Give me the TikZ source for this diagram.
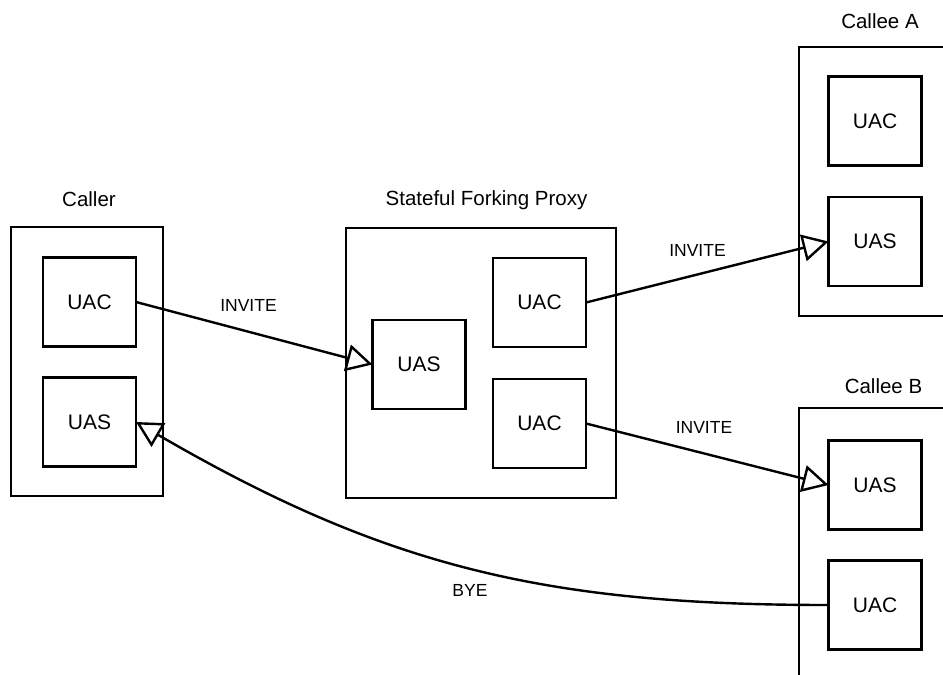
\documentclass[tikz,border=0pt]{standalone}
\usepackage{fontspec}
\setmainfont{Liberation Sans}
\usetikzlibrary{arrows.meta}
\begin{document}
\begin{tikzpicture}[x=1pt,y=-1pt,
  agent/.style={draw, line width=2.6pt, minimum width=93pt, minimum height=89pt, inner sep=0pt, outer sep=0pt, font=\fontsize{21}{24}\selectfont},
  container/.style={draw, line width=2.6pt, inner sep=0pt, outer sep=0pt},
  title/.style={anchor=base, inner sep=0pt, font=\fontsize{20.5}{24}\selectfont},
  msglabel/.style={anchor=base, inner sep=0pt, font=\fontsize{17.5}{20}\selectfont},
  msg/.style={line width=2.4pt, -{Triangle[open, length=26pt, width=27pt, line width=2.4pt]}}
]
\useasboundingbox (0,0) rectangle (943,675);
\begin{scope}
\clip (0,0) rectangle (943,675);

% Caller
\node[container, minimum width=152pt, minimum height=269pt] (caller) at (87,361.5) {};
\node[title] (callerT) at (89,206.5) {Caller};
\node[agent] (cUAC) at (89.5,302) {UAC};
\node[agent] (cUAS) at (89.5,422) {UAS};

% Proxy
\node[container, minimum width=270pt, minimum height=270pt] (proxy) at (481,363) {};
\node[title] (proxyT) at (486.5,205) {Stateful Forking Proxy};
\node[agent] (pUAS) at (419,364.5) {UAS};
\node[agent] (pUAC1) at (539.5,302.5) {UAC};
\node[agent] (pUAC2) at (539.5,423.5) {UAC};

% Callee A
\coordinate (aTR) at (950,47);
\coordinate (aTL) at (799,47);
\coordinate (aBL) at (799,316);
\coordinate (aBR) at (950,316);
\draw[line width=2.6pt] (aTR) -- (aTL) -- (aBL) -- (aBR);
\node[title] (aT) at (880,28.3) {Callee A};
\node[agent] (aUAC) at (875,121) {UAC};
\node[agent] (aUAS) at (875,241.5) {UAS};

% Callee B
\coordinate (bTR) at (950,408);
\coordinate (bTL) at (799,408);
\coordinate (bBL) at (799,690);
\draw[line width=2.6pt] (bTR) -- (bTL) -- (bBL);
\node[title] (bT) at (883.5,393.3) {Callee B};
\node[agent] (bUAS) at (875,485) {UAS};
\node[agent] (bUAC) at (875,605) {UAC};

% Messages
\draw[msg] (cUAC.east) -- (pUAS.west);
\draw[msg] (pUAC1.east) -- (aUAS.west);
\draw[msg] (pUAC2.east) -- (bUAS.west);
\draw[msg] (bUAC.west) .. controls (548,605) and (387,568) .. (cUAS.east);

\node[msglabel] (l1) at (248.5,311.7) {INVITE};
\node[msglabel] (l2) at (697.5,256.7) {INVITE};
\node[msglabel] (l3) at (704,433.3) {INVITE};
\node[msglabel] (l4) at (470,596.7) {BYE};
\end{scope}
\end{tikzpicture}
\end{document}
